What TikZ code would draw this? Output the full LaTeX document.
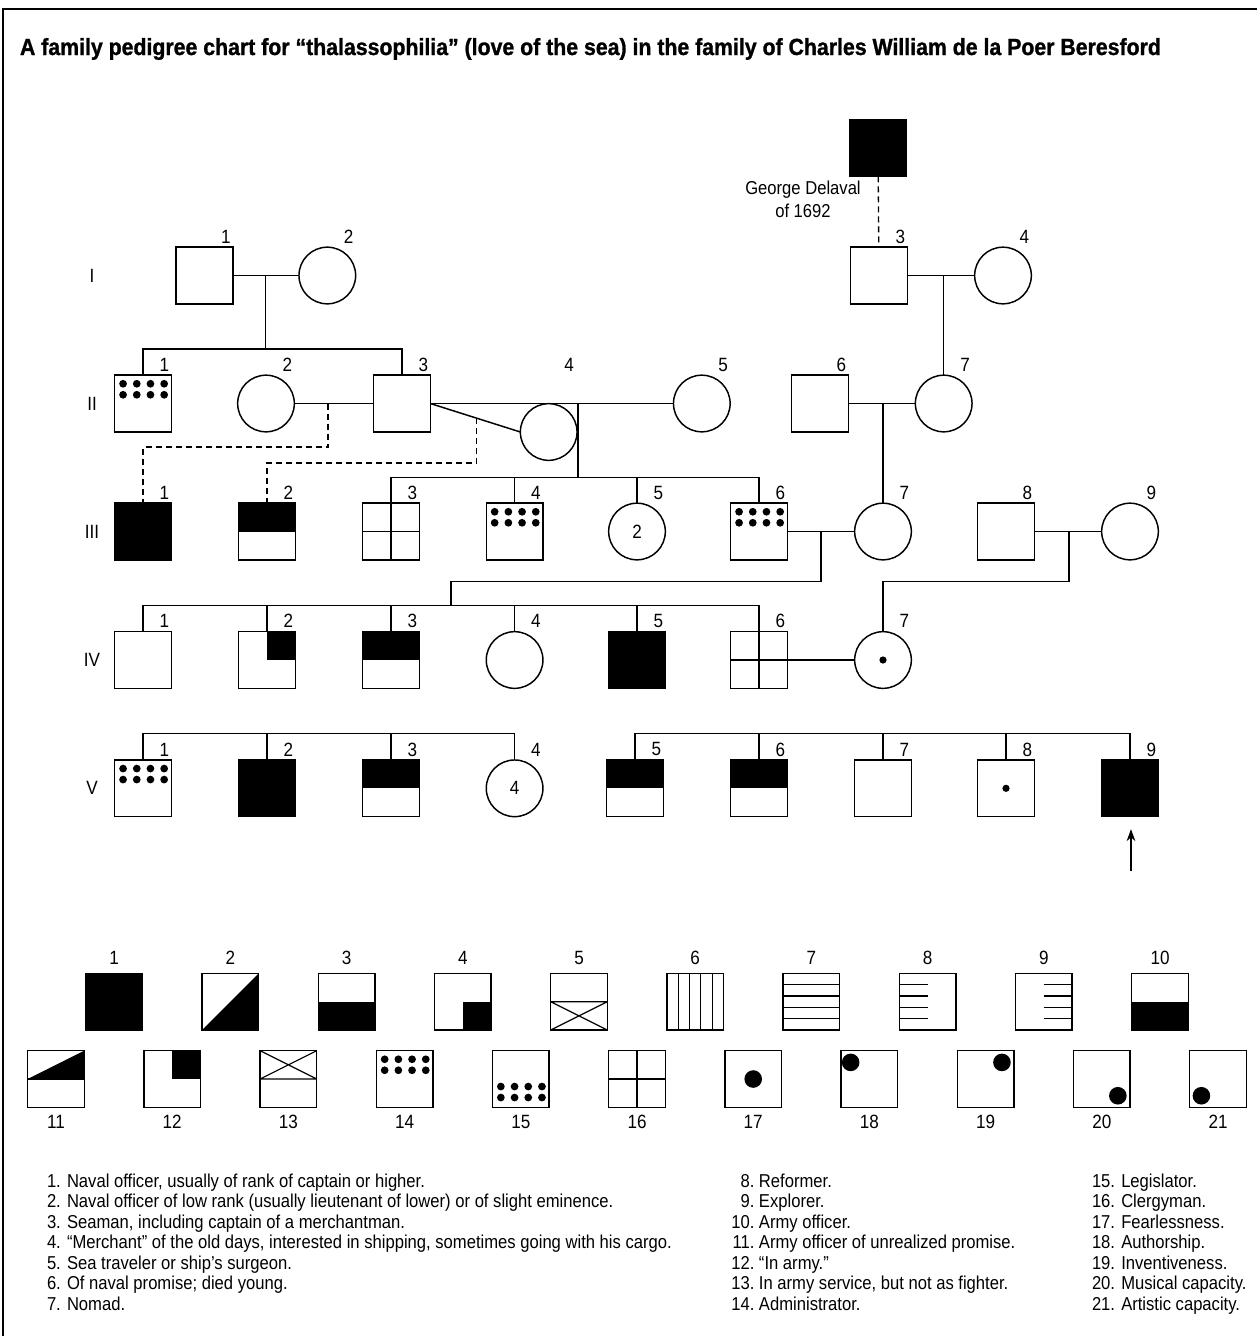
\documentclass[tikz,border=0pt]{standalone}
\usepackage{fontspec}
\setmainfont[FakeStretch=0.89]{Liberation Sans}
\newfontfamily\titlefont[FakeStretch=0.912,FakeBold=1.2]{Liberation Sans}
\usetikzlibrary{calc,arrows.meta}
\begin{document}
\begin{tikzpicture}[x=0.75pt,y=-0.75pt,
  every node/.style={inner sep=0pt,outer sep=0pt},
  ln/.style={line width=1.1pt},
  thinln/.style={line width=0.9pt},
  sq/.style={draw,line width=1.1pt,fill=white,minimum width=42.5pt,minimum height=42.5pt},
  ci/.style={draw,circle,line width=1.1pt,fill=white,minimum size=42.5pt,font=\fontsize{14.4}{17}\selectfont},
  full/.style={fill=black},
  tophalf/.style={path picture={\fill[black] (path picture bounding box.north west) rectangle (path picture bounding box.east);}},
  bothalf/.style={path picture={\fill[black] (path picture bounding box.west) rectangle (path picture bounding box.south east);}},
  trq/.style={path picture={\fill[black] (path picture bounding box.center) rectangle (path picture bounding box.north east);}},
  brq/.style={path picture={\fill[black] (path picture bounding box.center) rectangle (path picture bounding box.south east);}},
  diagfill/.style={path picture={\fill[black] (path picture bounding box.south west) -- (path picture bounding box.north east) -- (path picture bounding box.south east) -- cycle;}},
  crossq/.style={path picture={\draw[thinln] (path picture bounding box.north) -- (path picture bounding box.south) (path picture bounding box.west) -- (path picture bounding box.east);}},
  botx/.style={path picture={\draw[thinln] (path picture bounding box.west) -- (path picture bounding box.east) (path picture bounding box.west) -- (path picture bounding box.south east) (path picture bounding box.south west) -- (path picture bounding box.east);}},
  topx/.style={path picture={\draw[thinln] (path picture bounding box.west) -- (path picture bounding box.east) (path picture bounding box.west) -- (path picture bounding box.north east) (path picture bounding box.north west) -- (path picture bounding box.east);}},
  armyprom/.style={path picture={\draw[thinln] (path picture bounding box.west) -- (path picture bounding box.east); \fill[black] (path picture bounding box.west) -- (path picture bounding box.north east) -- (path picture bounding box.east) -- cycle;}},
  vlines/.style={path picture={\foreach \f in {0.2,0.4,0.6,0.8}{\draw[thinln] ($(path picture bounding box.north west)!\f!(path picture bounding box.north east)$) -- ($(path picture bounding box.south west)!\f!(path picture bounding box.south east)$);}}},
  hlines/.style={path picture={\foreach \f in {0.2,0.4,0.6,0.8}{\draw[thinln] ($(path picture bounding box.north west)!\f!(path picture bounding box.south west)$) -- ($(path picture bounding box.north east)!\f!(path picture bounding box.south east)$);}}},
  hleft/.style={path picture={\foreach \f in {0.2,0.4,0.6,0.8}{\draw[thinln] ($(path picture bounding box.north west)!\f!(path picture bounding box.south west)$) -- ($(path picture bounding box.north)!\f!(path picture bounding box.south)$);}}},
  hright/.style={path picture={\foreach \f in {0.2,0.4,0.6,0.8}{\draw[thinln] ($(path picture bounding box.north)!\f!(path picture bounding box.south)$) -- ($(path picture bounding box.north east)!\f!(path picture bounding box.south east)$);}}},
  dotstop/.style={path picture={\foreach \i in {0,1,2,3}{\foreach \j in {0,1}{\fill[black] ([xshift={(8.4+13.7*\i)*0.75pt},yshift={-(8.6+11*\j)*0.75pt}]path picture bounding box.north west) circle (2.9pt);}}}},
  dotsbot/.style={path picture={\foreach \i in {0,1,2,3}{\foreach \j in {0,1}{\fill[black] ([xshift={(8.4+13.7*\i)*0.75pt},yshift={(9.8+11*\j)*0.75pt}]path picture bounding box.south west) circle (2.9pt);}}}},
  smalldot/.style={path picture={\fill[black] (path picture bounding box.center) circle (2.7pt);}},
  dotc/.style={path picture={\fill[black] (path picture bounding box.center) circle (6.6pt);}},
  dottl/.style={path picture={\fill[black] ([xshift=7.2pt,yshift=-8.8pt]path picture bounding box.north west) circle (6.6pt);}},
  dottr/.style={path picture={\fill[black] ([xshift=-9pt,yshift=-8.8pt]path picture bounding box.north east) circle (6.6pt);}},
  dotbr/.style={path picture={\fill[black] ([xshift=-9.2pt,yshift=8.7pt]path picture bounding box.south east) circle (6.6pt);}},
  dotbl/.style={path picture={\fill[black] ([xshift=8.8pt,yshift=8.7pt]path picture bounding box.south west) circle (6.6pt);}},
  lbl/.style={font=\fontsize{14.4}{17}\selectfont},
  legtxt/.style={font=\fontsize{14}{16}\selectfont,anchor=base west},
  dsh/.style={line width=1pt,dash pattern=on 4.5pt off 3pt}
]
\useasboundingbox (0,0) rectangle (1257,1336);
\fill[white] (0,0) rectangle (1257,1336);
% frame
\draw[line width=1.6pt] (3,1340) -- (3,9) -- (1262,9);

% title
\node[anchor=base west,font=\titlefont\bfseries\fontsize{17.5}{20}\selectfont] (title) at (20,55)
  {A family pedigree chart for “thalassophilia” (love of the sea) in the family of Charles William de la Poer Beresford};

% George Delaval
\node[sq,full] (G) at (878,148) {};
\node[align=center,font=\fontsize{14}{17}\selectfont] (gtxt) at (803,199) {George Delaval\\of 1692};

% generation labels
\node[lbl] (gI) at (92,275.5) {I};
\node[lbl] (gII) at (92,403.5) {II};
\node[lbl] (gIII) at (92,531.5) {III};
\node[lbl] (gIV) at (92,660) {IV};
\node[lbl] (gV) at (92,788.3) {V};

% generation I
\node[sq] (I1) at (204.5,275.5) {};
\node[ci] (I2) at (327.3,275.5) {};
\node[sq] (I3) at (879,275.5) {};
\node[ci] (I4) at (1003,275.5) {};

% generation II
\node[sq,dotstop] (II1) at (143,403.5) {};
\node[ci] (II2) at (266,403.5) {};
\node[sq] (II3) at (402,403.5) {};
\node[ci] (II4) at (548.7,432) {};
\node[ci] (II5) at (701.8,403.5) {};
\node[sq] (II6) at (820,403.5) {};
\node[ci] (II7) at (943.7,403.5) {};

% generation III
\node[sq,full] (III1) at (143,531.5) {};
\node[sq,tophalf] (III2) at (267,531.5) {};
\node[sq,crossq] (III3) at (391,531.5) {};
\node[sq,dotstop] (III4) at (514.6,531.5) {};
\node[ci] (III5) at (637,531.5) {2};
\node[sq,dotstop] (III6) at (759,531.5) {};
\node[ci] (III7) at (883,531.5) {};
\node[sq] (III8) at (1006,531.5) {};
\node[ci] (III9) at (1130,531.5) {};

% generation IV
\node[sq] (IV1) at (143,660) {};
\node[sq,trq] (IV2) at (267,660) {};
\node[sq,tophalf] (IV3) at (391,660) {};
\node[ci] (IV4) at (514.6,660) {};
\node[sq,full] (IV5) at (637,660) {};
\node[sq,crossq] (IV6) at (759,660) {};
\node[ci,smalldot] (IV7) at (883,660) {};

% generation V
\node[sq,dotstop] (V1) at (143,788.3) {};
\node[sq,full] (V2) at (267,788.3) {};
\node[sq,tophalf] (V3) at (391,788.3) {};
\node[ci] (V4) at (514.6,788.3) {4};
\node[sq,tophalf] (V5) at (635,788.3) {};
\node[sq,tophalf] (V6) at (759,788.3) {};
\node[sq] (V7) at (883,788.3) {};
\node[sq,smalldot] (V8) at (1006,788.3) {};
\node[sq,full] (V9) at (1130,788.3) {};

% individual numbers
\foreach \n/\t in {I1/1,I2/2,I3/3,I4/4,II1/1,II2/2,II3/3,II5/5,II6/6,II7/7,
  III1/1,III2/2,III3/3,III4/4,III5/5,III6/6,III7/7,III8/8,III9/9,
  IV1/1,IV2/2,IV3/3,IV4/4,IV5/5,IV6/6,IV7/7,
  V1/1,V2/2,V3/3,V4/4,V5/5,V6/6,V7/7,V8/8,V9/9}{
  \path (\n.east |- \n.north) ++(-7,-10.5) node[lbl] (num\n) {\t};
}
\node[lbl] (numII4) at (569,365) {4};

% helper levels
\coordinate (yS2) at (0,349);
\coordinate (yS3) at (0,477.3);
\coordinate (yR3) at (0,581.3);
\coordinate (yS4) at (0,605.7);
\coordinate (yS5) at (0,733.3);

% connectors
\draw[dsh] (G) -- (I3);
\draw[ln] (I1) -- (I2);
\coordinate (m1) at (265.7,275.5);
\draw[ln] (m1) -- (m1 |- yS2);
\draw[ln] (II1.north) -- (II1.north |- yS2) -- (II3.north |- yS2) -- (II3.north);

\draw[ln] (I3) -- (I4);
\coordinate (m2) at (943.7,275.5);
\draw[ln] (m2) -- (II7.north);

\draw[ln] (II2) -- (II3);
\coordinate (m3) at (328,403.5);
\coordinate (d1) at (328,447);
\draw[dsh] (m3) -- (d1) -| (III1.north);

\draw[ln] (II3.east) -- (II5.west);
\draw[ln] (II3.east) -- (II4.west);
\coordinate (d2) at ($(II3.east)!0.515!(II4.west)$);
\coordinate (d3) at (d2 |- 0,463);
\draw[dsh] (d2) -- (d3) -| (III2.north);

\coordinate (m4) at (578,403.5);
\draw[ln] (m4) -- (m4 |- yS3);
\draw[ln] (III3.north) -- (III3.north |- yS3) -- (III6.north |- yS3) -- (III6.north);
\draw[ln] (III4.north) -- (III4.north |- yS3);
\draw[ln] (III5.north) -- (III5.north |- yS3);

\draw[ln] (II6) -- (II7);
\coordinate (m5) at (883,403.5);
\draw[ln] (m5) -- (III7.north);

\draw[ln] (III6) -- (III7);
\coordinate (m6) at (821,531.5);
\coordinate (c4) at (451,605.7);
\draw[ln] (m6) -- (m6 |- yR3) -| (c4);
\draw[ln] (IV1.north) -- (IV1.north |- yS4) -- (IV6.north |- yS4) -- (IV6.north);
\foreach \n in {IV2,IV3,IV4,IV5}{\draw[ln] (\n.north) -- (\n.north |- yS4);}

\draw[ln] (III8) -- (III9);
\coordinate (m7) at (1068.8,531.5);
\draw[ln] (m7) -- (m7 |- yR3) -| (IV7.north);

\draw[ln] (IV6) -- (IV7);

\draw[ln] (V1.north) -- (V1.north |- yS5) -- (V4.north |- yS5) -- (V4.north);
\foreach \n in {V2,V3}{\draw[ln] (\n.north) -- (\n.north |- yS5);}
\draw[ln] (V5.north) -- (V5.north |- yS5) -- (V9.north |- yS5) -- (V9.north);
\foreach \n in {V6,V7,V8}{\draw[ln] (\n.north) -- (\n.north |- yS5);}

\coordinate (arr) at (1131,871);
\draw[ln,-{Stealth[length=9pt,width=6.5pt]}] (arr) -- ($(V9.south)+(1,12.5)$);

% legend symbols
\foreach \k/\st in {1/full,2/diagfill,3/bothalf,4/brq,5/botx,6/vlines,7/hlines,8/hleft,9/hright,10/bothalf}{
  \node[sq,\st] (L\k) at ({114.2+116.2*(\k-1)},1001.7) {};
  \node[lbl] (Ln\k) at ({114.2+116.2*(\k-1)},958) {\k};
}
\foreach \k/\st in {11/armyprom,12/trq,13/topx,14/dotstop,15/dotsbot,16/crossq,17/dotc,18/dottl,19/dottr,20/dotbr,21/dotbl}{
  \node[sq,\st] (L\k) at ({56+116.2*(\k-11)},1079) {};
  \node[lbl] (Ln\k) at ({56+116.2*(\k-11)},1121.7) {\k};
}

% legend text
\foreach \t [count=\i] in {1. Naval officer{,} usually of rank of captain or higher.,
  2. Naval officer of low rank (usually lieutenant of lower) or of slight eminence.,
  3. Seaman{,} including captain of a merchantman.,
  4. “Merchant” of the old days{,} interested in shipping{,} sometimes going with his cargo.,
  5. Sea traveler or ship’s surgeon.,
  6. Of naval promise; died young.,
  7. Nomad.}{
  \node[legtxt] (ta\i) at (47,{1187.3+20.45*(\i-1)}) {\t};
}
\foreach \n/\t [count=\i] in {8/Reformer.,9/Explorer.,10/Army officer.,11/Army officer of unrealized promise.,12/“In army.”,13/In army service{,} but not as fighter.,14/Administrator.}{
  \node[legtxt] (tb\i) at (759,{1187.3+20.45*(\i-1)}) {\llap{\n.\ }\t};
}
\foreach \t [count=\i] in {15. Legislator.,16. Clergyman.,17. Fearlessness.,18. Authorship.,19. Inventiveness.,20. Musical capacity.,21. Artistic capacity.}{
  \node[legtxt] (tc\i) at (1092,{1187.3+20.45*(\i-1)}) {\t};
}
\end{tikzpicture}
\end{document}
